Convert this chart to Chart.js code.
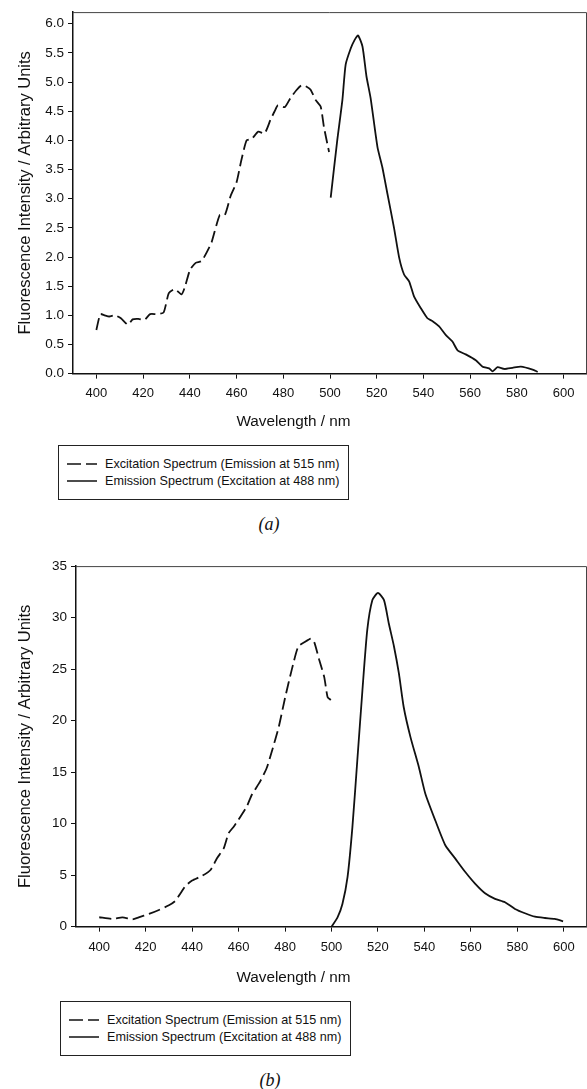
<!DOCTYPE html>
<html lang="en">
<head>
    <meta charset="UTF-8">
    <title>Excitation and emission spectra</title>
    <script src="https://cdn.jsdelivr.net/npm/chart.js"></script>
    <style>
        body {
            margin: 0;
            background: #fff;
            font-family: "Liberation Sans", Arial, sans-serif;
            color: #111;
        }
        .wrap {
            position: absolute;
            left: 0;
            width: 587px;
        }
        .legend {
            position: absolute;
            box-sizing: border-box;
            width: 291px;
            height: 55px;
            border: 1px solid #222;
            padding: 9px 0 0 8px;
            font-size: 12.6px;
        }
        .legend .row {
            display: flex;
            align-items: center;
            height: 17px;
            white-space: nowrap;
        }
        .legend svg {
            margin-right: 6px;
        }
        .caption {
            position: absolute;
            width: 40px;
            text-align: center;
            font-family: "Liberation Serif", "Times New Roman", serif;
            font-style: italic;
            font-size: 18px;
        }
    </style>
</head>
<body>
    <div class="wrap" style="top:0;height:431px"><canvas id="chartA" width="587" height="431"></canvas></div>
    <div class="legend" id="legendA" style="left:58px;top:445px"></div>
    <div class="caption" style="left:249px;top:514px">(a)</div>

    <div class="wrap" style="top:554px;height:433px"><canvas id="chartB" width="587" height="433"></canvas></div>
    <div class="legend" id="legendB" style="left:60px;top:1001px"></div>
    <div class="caption" style="left:250px;top:1070px">(b)</div>

    <script>
        // (a) excitation spectrum, emission at 515 nm
        const exA_nm = [400, 401.7, 403.5, 405.5, 408, 410.5, 413.5, 415.5, 418, 420.5, 423, 426, 428.8, 431, 433.6,
            436.5, 438, 440.1, 442.5, 445, 447.5, 449.3, 452.8, 455, 457.5, 460, 462, 464.3, 466.4, 469.3, 472,
            474.5, 476.3, 477.7, 480.6, 483, 485.6, 487.9, 490, 491.7, 493.9, 496, 497.4, 499.6];
        const exA_val = [0.75, 1.02, 1.0, 0.98, 1.0, 0.95, 0.84, 0.93, 0.94, 0.92, 1.02, 1.02, 1.05, 1.38, 1.45,
            1.36, 1.5, 1.78, 1.9, 1.93, 2.1, 2.25, 2.72, 2.72, 3.05, 3.28, 3.65, 4.0, 4.02, 4.15, 4.12,
            4.35, 4.5, 4.6, 4.57, 4.72, 4.86, 4.95, 4.92, 4.87, 4.69, 4.58, 4.23, 3.8];

        // (a) emission spectrum, excitation at 488 nm
        const emA_nm = [500.3, 503.1, 505.3, 506.7, 508.9, 510.5, 512, 513.9, 515.6, 517.4, 520.3, 522.4, 524.6,
            527.4, 529.6, 531.7, 533.9, 536, 538.9, 541.7, 543.9, 546.7, 549.6, 552.4, 554.6, 558.1, 562.4,
            565.3, 568.1, 569.6, 571.7, 574.6, 578.1, 581.7, 586.7, 588.9];
        const emA_val = [3.02, 4.0, 4.69, 5.3, 5.58, 5.72, 5.8, 5.61, 5.1, 4.72, 3.89, 3.54, 3.08,
            2.5, 1.99, 1.7, 1.58, 1.32, 1.12, 0.95, 0.9, 0.81, 0.66, 0.55, 0.4, 0.33, 0.23,
            0.12, 0.09, 0.04, 0.11, 0.08, 0.1, 0.12, 0.07, 0.03];

        // (b) excitation spectrum
        const exB_nm = [400, 405.7, 410, 414.3, 417, 421.4, 425.7, 430, 432.9, 435, 437.1, 440, 444.3, 447.9,
            450.7, 453.6, 455.7, 457.9, 460, 463.6, 465.7, 469.3, 472.1, 474.3, 477.3, 480, 482.9, 485.7,
            488.3, 491.1, 492.6, 494.7, 496.9, 498.3, 499.7];
        const exB_val = [0.91, 0.75, 0.9, 0.71, 0.9, 1.23, 1.62, 2.07, 2.53, 3.24, 3.95, 4.47, 4.93, 5.5,
            6.64, 7.6, 9.07, 9.7, 10.4, 11.7, 12.8, 14.1, 15.4, 17.0, 19.4, 22.2, 24.95, 27.2,
            27.6, 27.97, 27.6, 25.9, 24.2, 22.3, 22.0];

        // (b) emission spectrum
        const emB_nm = [500, 502.6, 504.7, 506.9, 509, 511.1, 513.3, 515.4, 517.6, 520, 522.6, 524.7, 526.9,
            529, 531.1, 534, 537.6, 540.4, 544.7, 549, 553.3, 557.6, 561.9, 566.1, 570.4, 574.7, 579,
            583.3, 587.6, 591.9, 596.1, 599.7];
        const emB_val = [0, 0.9, 2.2, 4.8, 9.66, 16.1, 22.9, 28.8, 31.7, 32.4, 31.7, 29.4, 27.2,
            24.6, 21.3, 18.4, 15.5, 12.9, 10.3, 7.9, 6.6, 5.3, 4.15, 3.24, 2.7, 2.37, 1.72,
            1.3, 0.97, 0.84, 0.75, 0.52];

        const seriesLabels = ['Excitation Spectrum (Emission at 515 nm)', 'Emission Spectrum (Excitation at 488 nm)'];
        const xTicks = [400, 420, 440, 460, 480, 500, 520, 540, 560, 580, 600];
        const yTicksA = [0, 0.5, 1, 1.5, 2, 2.5, 3, 3.5, 4, 4.5, 5, 5.5, 6];
        const yTicksB = [0, 5, 10, 15, 20, 25, 30, 35];
        const xTitle = 'Wavelength / nm';
        const yTitle = 'Fluorescence Intensity / Arbitrary Units';

        const FONT = '"Liberation Sans", Arial, sans-serif';
        const INK = '#111';

        function pts(xs, ys) {
            return xs.map((x, i) => ({ x: x, y: ys[i] }));
        }

        // box round the plot area (top and right sides)
        const framePlugin = {
            id: 'frame',
            afterDatasetsDraw(chart) {
                const { ctx, chartArea: a } = chart;
                ctx.save();
                ctx.strokeStyle = '#444';
                ctx.lineWidth = 1;
                ctx.beginPath();
                ctx.moveTo(a.left, a.top + 0.5);
                ctx.lineTo(a.right - 0.5, a.top + 0.5);
                ctx.lineTo(a.right - 0.5, a.bottom);
                ctx.stroke();
                ctx.restore();
            }
        };

        function makeChart(id, ex, em, yMax, yTicks, cfg) {
            const ctx = document.getElementById(id).getContext('2d');
            return new Chart(ctx, {
                type: 'line',
                data: {
                    datasets: [{
                        label: seriesLabels[0],
                        data: ex,
                        borderColor: INK,
                        borderWidth: 1.8,
                        borderDash: [12, 5],
                        pointRadius: 0,
                        tension: 0.2,
                        fill: false
                    }, {
                        label: seriesLabels[1],
                        data: em,
                        borderColor: INK,
                        borderWidth: 1.8,
                        pointRadius: 0,
                        tension: 0.2,
                        fill: false
                    }]
                },
                options: {
                    responsive: false,
                    animation: false,
                    layout: { padding: { top: 12, left: 0, right: 0, bottom: 0 } },
                    plugins: {
                        legend: { display: false },
                        tooltip: { enabled: false },
                        title: {
                            display: true,
                            text: xTitle,
                            position: 'bottom',
                            weight: 500,
                            color: INK,
                            font: { family: FONT, size: 15.3, weight: 'normal' },
                            padding: { top: cfg.titlePad, bottom: 0 }
                        }
                    },
                    scales: {
                        x: {
                            type: 'linear',
                            min: 390,
                            max: 610,
                            afterBuildTicks: s => { s.ticks = xTicks.map(v => ({ value: v })); },
                            afterFit: s => { s.height = 32; },
                            grid: { drawOnChartArea: false, drawTicks: true, tickLength: 5, color: INK, lineWidth: 1 },
                            border: { display: true, color: INK, width: 1.5 },
                            ticks: {
                                color: INK,
                                padding: cfg.xTickPad,
                                maxRotation: 0,
                                font: { family: FONT, size: 13 }
                            }
                        },
                        y: {
                            type: 'linear',
                            min: 0,
                            max: yMax,
                            afterBuildTicks: s => { s.ticks = yTicks.map(v => ({ value: v })); },
                            afterFit: s => { s.width = cfg.yWidth; },
                            grid: { drawOnChartArea: false, drawTicks: true, tickLength: 5, color: INK, lineWidth: 1 },
                            border: { display: true, color: INK, width: 1.5 },
                            ticks: {
                                color: INK,
                                padding: 4,
                                font: { family: FONT, size: 13.5 },
                                callback: v => cfg.fmt(v)
                            },
                            title: {
                                display: true,
                                text: yTitle,
                                color: INK,
                                font: { family: FONT, size: 16.5, weight: 'normal' },
                                padding: { top: 16, bottom: 0 }
                            }
                        }
                    }
                },
                plugins: [framePlugin]
            });
        }

        function buildLegend(chart, el) {
            el.innerHTML = chart.data.datasets.map(ds => {
                const dash = ds.borderDash ? ' stroke-dasharray="14 5"' : '';
                return '<div class="row"><svg width="32" height="6"><line x1="0" y1="3" x2="30" y2="3" stroke="#111" stroke-width="1.5"' +
                    dash + '/></svg><span>' + ds.label + '</span></div>';
            }).join('');
        }

        const chartA = makeChart('chartA', pts(exA_nm, exA_val), pts(emA_nm, emA_val), 6.2, yTicksA,
            { yWidth: 73, xTickPad: 7, titlePad: 7, fmt: v => v.toFixed(1) });
        const chartB = makeChart('chartB', pts(exB_nm, exB_val), pts(emB_nm, emB_val), 35, yTicksB,
            { yWidth: 76, xTickPad: 8, titlePad: 10, fmt: v => String(v) });

        buildLegend(chartA, document.getElementById('legendA'));
        buildLegend(chartB, document.getElementById('legendB'));
    </script>
</body>
</html>
